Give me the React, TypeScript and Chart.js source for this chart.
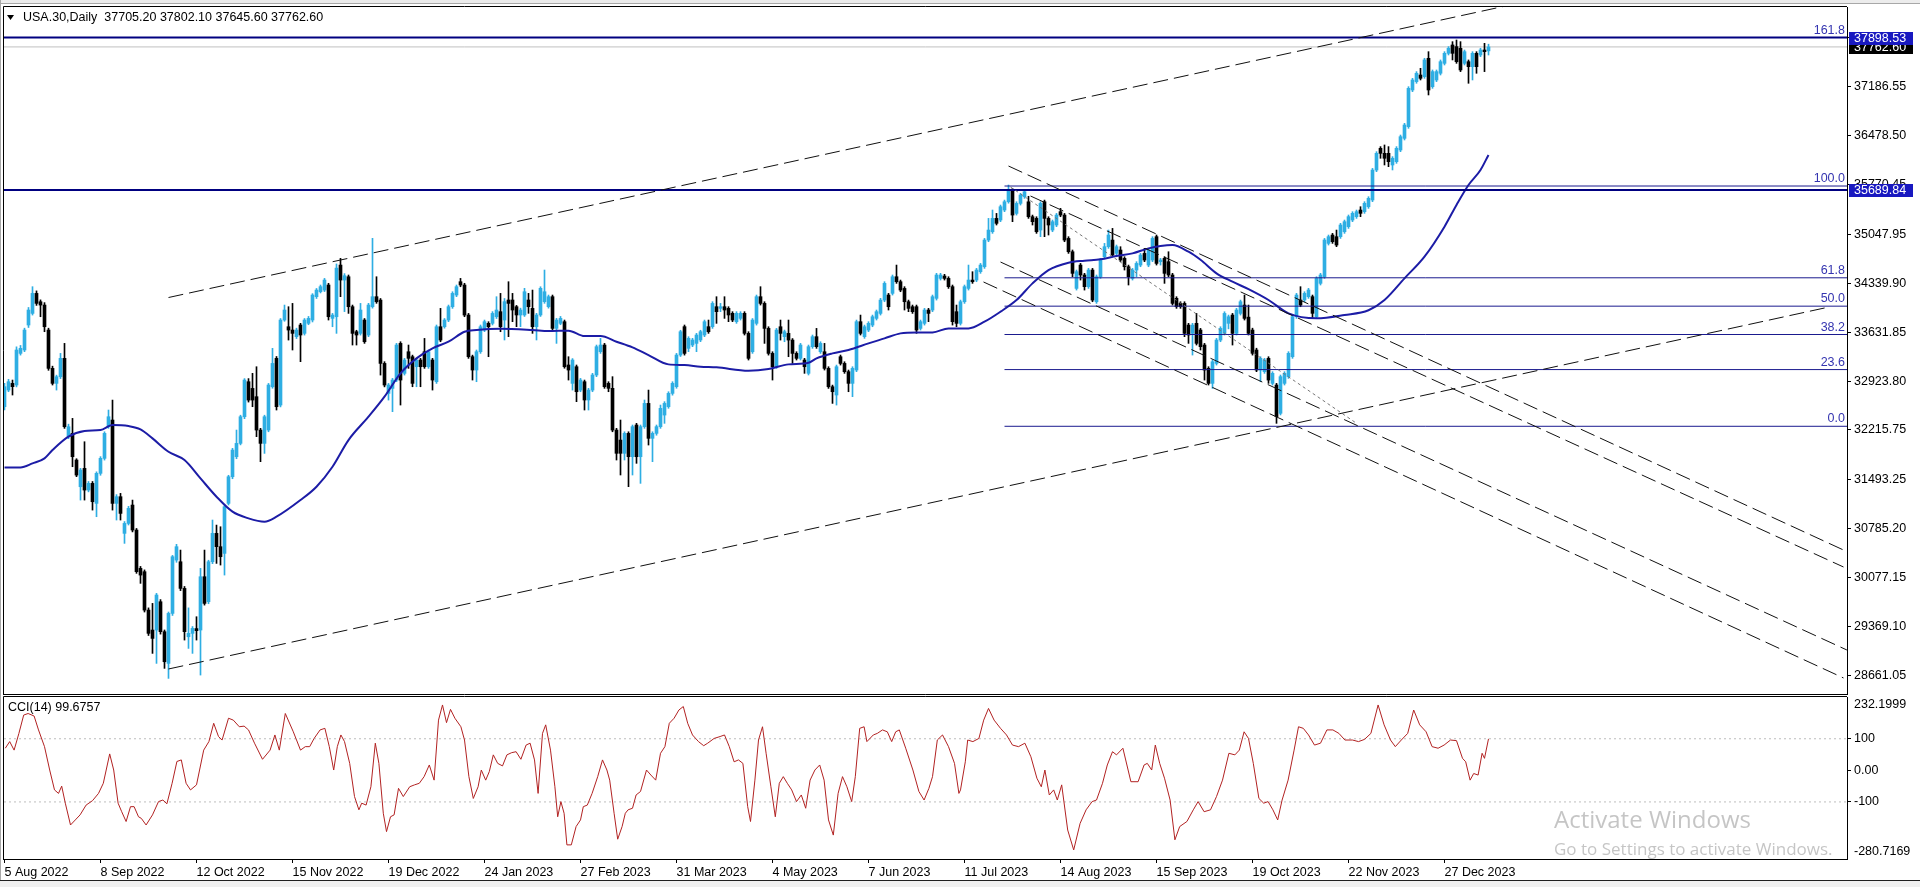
import React, { useEffect, useRef } from 'react';
import { Chart, registerables } from 'chart.js';

Chart.register(...registerables);

// ---------- data ----------
const titleText = 'USA.30,Daily  37705.20 37802.10 37645.60 37762.60';
const cciTitle = 'CCI(14) 99.6757';

const dateLabels = ['5 Aug 2022', '8 Sep 2022', '12 Oct 2022', '15 Nov 2022', '19 Dec 2022', '24 Jan 2023', '27 Feb 2023', '31 Mar 2023', '4 May 2023', '7 Jun 2023', '11 Jul 2023', '14 Aug 2023', '15 Sep 2023', '19 Oct 2023', '22 Nov 2023', '27 Dec 2023'];
const dateTickBars = [0, 24, 48, 72, 96, 120, 144, 168, 192, 216, 240, 264, 288, 312, 336, 360];

const priceTicks = [37894.6, 37186.55, 36478.5, 35770.45, 35047.95, 34339.9, 33631.85, 32923.8, 32215.75, 31493.25, 30785.2, 30077.15, 29369.1, 28661.05];
const priceMin = 28392.9;
const priceMax = 38340.8;

const opens = [
  32553, 32794, 32891, 32867, 33325, 33374, 33736, 33904, 34194, 34073,
  34025, 33663, 33108, 32891, 32987, 33253, 32119, 32167, 31781, 31394,
  31660, 31346, 31443, 31153, 31588, 31805, 32263, 32360, 31153, 31250,
  30719, 30863, 31129, 30767, 30212, 30164, 29608, 29319, 29319, 29729,
  29295, 28836, 29560, 30332, 30308, 29922, 29222, 29271, 29340, 29319,
  30091, 29729, 30308, 30719, 30526, 30429, 31153, 31539, 31829, 32022,
  32408, 32915, 32818, 32698, 32215, 32022, 32215, 32842, 33253, 32577,
  33808, 33711, 33663, 33567, 33736, 33615, 33760, 33808, 34146, 34218,
  34242, 34315, 33832, 33856, 34604, 34387, 34435, 34001, 33639, 33615,
  33808, 33591, 34001, 34146, 34097, 33180, 32746, 32818, 32939, 33470,
  33036, 33349, 33277, 33132, 33229, 33349, 33132, 33229, 32915, 33711,
  33711, 33808, 34001, 34170, 34363, 34315, 33880, 33277, 33084, 33349,
  33663, 33760, 33760, 33856, 33929, 33808, 34098, 34098, 34001, 33881,
  33881, 34098, 33977, 33712, 33881, 34074, 34001, 34146, 33687, 33760,
  33784, 33157, 32891, 33132, 32794, 32915, 32650, 32794, 33012, 33350,
  33446, 32891, 32819, 32215, 32070, 31878, 32167, 31829, 32288, 31829,
  32264, 32601, 32095, 32167, 32264, 32432, 32553, 32746, 32843, 33301,
  33712, 33398, 33446, 33470, 33519, 33591, 33712, 33712, 34001, 33977,
  34001, 33977, 33905, 33784, 33832, 33905, 33615, 33349, 33760, 34146,
  34049, 33687, 33325, 33132, 33711, 33567, 33615, 33518, 33325, 33253,
  33229, 33036, 33422, 33567, 33349, 33349, 33108, 32842, 32722, 33277,
  33180, 33060, 32891, 33084, 33784, 33567, 33663, 33735, 33832, 33904,
  34097, 34170, 34194, 34435, 34363, 34266, 34073, 34001, 34001, 33687,
  33760, 33953, 33953, 34122, 34411, 34445, 34411, 34291, 33929, 33760,
  34073, 34266, 34387, 34387, 34508, 34580, 34966, 35087, 35280, 35256,
  35401, 35521, 35690, 35352, 35497, 35594, 35520, 35304, 35280, 35111,
  35521, 35280, 35111, 35184, 35377, 35328, 34990, 34797, 34266, 34604,
  34460, 34291, 34532, 34073, 34435, 34725, 34870, 34966, 34773, 34822,
  34701, 34580, 34411, 34532, 34604, 34773, 34604, 34677, 35015, 34653,
  34701, 34653, 34460, 34122, 34049, 34049, 33735, 33615, 33760, 33663,
  33446, 33108, 32891, 33180, 33518, 33615, 33760, 33880, 33615, 33904,
  34025, 33850, 33663, 33374, 33084, 33060, 33253, 32891, 32867, 32457,
  32891, 32988, 33277, 33857, 34098, 34098, 34146, 34146, 33857, 34339,
  34435, 34918, 35039, 35015, 35015, 35087, 35160, 35256, 35305, 35401,
  35377, 35449, 35546, 35980, 36294, 36222, 36222, 36053, 36101, 36270,
  36439, 36608, 37139, 37260, 37356, 37332, 37598, 37187, 37284, 37381,
  37525, 37670, 37791, 37767, 37743, 37525, 37549, 37477, 37670, 37646,
  37718, 37705.2
];
const highs = [
  32891, 32950, 32939, 33420, 33440, 33690, 33990, 34291, 34230, 34100,
  34060, 33690, 33140, 33010, 33325, 33470, 32300, 32384, 31800, 31660,
  32046, 31470, 31470, 31610, 31830, 32190, 32505, 32649, 31280, 31298,
  30890, 31110, 31201, 30790, 30240, 30190, 29640, 29705, 29850, 29760,
  29320, 29580, 30400, 30560, 30477, 29950, 29640, 29370, 29512, 30212,
  30477, 30330, 30912, 30839, 30815, 31130, 31560, 31950, 32215, 32430,
  32960, 32960, 33036, 33132, 32240, 32430, 32890, 33398, 33280, 33830,
  34025, 34001, 34049, 33690, 33760, 33830, 33860, 34190, 34265, 34315,
  34411, 34340, 33904, 34620, 34701, 34480, 34460, 34025, 33660, 34049,
  33830, 34050, 34991, 34435, 34120, 33205, 32890, 32963, 33470, 33494,
  33253, 33446, 33300, 33253, 33253, 33542, 33374, 33253, 33736, 33977,
  33830, 34025, 34218, 34315, 34411, 34340, 33904, 33300, 33374, 33736,
  33808, 33784, 33930, 34146, 34194, 34120, 34363, 34194, 34020, 33980,
  34267, 34194, 34242, 33905, 34290, 34532, 34170, 34170, 33832, 33860,
  33808, 33277, 33250, 33157, 32963, 32939, 32819, 33036, 33446, 33543,
  33470, 32915, 32988, 32240, 32360, 32190, 32190, 32288, 32312, 32288,
  32650, 32794, 32190, 32288, 32577, 32626, 32770, 32915, 33325, 33660,
  33736, 33567, 33543, 33615, 33660, 33808, 33808, 34074, 34146, 34049,
  34146, 34001, 33929, 33929, 33929, 33929, 33639, 33830, 34170, 34291,
  34073, 33711, 33349, 33687, 33808, 33663, 33808, 33540, 33349, 33470,
  33253, 33446, 33591, 33687, 33494, 33470, 33132, 32866, 33156, 33301,
  33204, 33084, 33132, 33808, 33880, 33735, 33784, 33880, 33953, 34122,
  34363, 34194, 34460, 34604, 34387, 34291, 34097, 34025, 34025, 33808,
  33977, 33977, 34170, 34484, 34484, 34470, 34435, 34315, 34025, 34097,
  34315, 34604, 34508, 34556, 34628, 34990, 35280, 35401, 35352, 35473,
  35545, 35763, 35714, 35521, 35642, 35690, 35600, 35328, 35304, 35521,
  35545, 35304, 35256, 35352, 35425, 35352, 35015, 34822, 34532, 34628,
  34484, 34556, 34556, 34460, 34701, 34918, 35111, 35135, 34894, 34870,
  34725, 34604, 34556, 34653, 34773, 34846, 34846, 35015, 35039, 34701,
  34725, 34797, 34484, 34146, 34073, 34073, 33760, 33760, 33904, 33687,
  33470, 33132, 33228, 33542, 33711, 33928, 33880, 33904, 33977, 34097,
  34170, 34025, 33690, 33400, 33277, 33253, 33277, 33060, 32891, 33012,
  33060, 33350, 33881, 34194, 34291, 34218, 34267, 34170, 34435, 34484,
  34990, 35039, 35063, 35111, 35208, 35256, 35329, 35377, 35401, 35449,
  35522, 35594, 36004, 36246, 36319, 36343, 36319, 36174, 36319, 36487,
  36656, 37187, 37308, 37405, 37453, 37598, 37694, 37429, 37429, 37574,
  37694, 37767, 37839, 37863, 37839, 37718, 37574, 37694, 37694, 37743,
  37815, 37802.1
];
const lows = [
  32505, 32770, 32722, 32840, 33300, 33350, 33700, 33880, 34020, 33856,
  33639, 33080, 32867, 32794, 32960, 32239, 32090, 31684, 31540, 31201,
  31201, 31320, 31056, 30960, 31560, 31780, 32240, 31056, 30912, 30912,
  30574, 30840, 30740, 30140, 29995, 29580, 29240, 28981, 28836, 29260,
  28764, 28619, 29530, 30300, 29890, 29174, 29053, 28981, 29174, 28667,
  29680, 29700, 30280, 30284, 30260, 30115, 31130, 31510, 31800, 32000,
  32380, 32620, 32553, 32119, 31757, 31877, 32190, 32820, 32505, 32550,
  33790, 33518, 33374, 33540, 33205, 33590, 33740, 33780, 34120, 34200,
  34220, 33808, 33711, 33615, 34146, 33930, 33904, 33446, 33446, 33590,
  33470, 33567, 33980, 34050, 33011, 32840, 32649, 32481, 32915, 32577,
  33011, 33108, 32842, 32842, 32842, 33108, 33108, 32794, 32890, 33494,
  33690, 33784, 33977, 34146, 34290, 33856, 33253, 32939, 32915, 33325,
  33640, 33277, 33736, 33830, 33639, 33519, 33567, 33784, 33712, 33712,
  33860, 33905, 33615, 33519, 33860, 34050, 33980, 33660, 33470, 33740,
  33110, 32939, 32794, 32626, 32770, 32505, 32505, 32770, 32988, 33325,
  32819, 32770, 32190, 31781, 31564, 31781, 31395, 31564, 31733, 31443,
  32240, 31998, 31757, 32140, 32240, 32312, 32530, 32720, 32820, 33280,
  33300, 33350, 33422, 33350, 33495, 33567, 33615, 33687, 33760, 33929,
  33832, 33784, 33784, 33760, 33808, 33591, 33229, 33325, 33735, 34025,
  33470, 33300, 32939, 33108, 33518, 33494, 33277, 33180, 33229, 33229,
  33036, 33012, 33398, 33398, 33325, 33084, 32818, 32601, 32577, 33156,
  33036, 32770, 32698, 33060, 33591, 33543, 33640, 33711, 33808, 33880,
  34073, 33953, 34170, 34339, 34218, 33953, 33929, 33904, 33615, 33663,
  33735, 33784, 33929, 34097, 34387, 34387, 34266, 33735, 33711, 33735,
  34049, 34242, 34339, 34363, 34484, 34556, 34942, 35063, 35184, 35232,
  35377, 35500, 35232, 35328, 35473, 35570, 35280, 35184, 35063, 35015,
  35015, 35039, 35087, 35160, 35304, 34942, 34773, 34435, 34242, 34387,
  34242, 34266, 34073, 34049, 34411, 34701, 34846, 34725, 34725, 34653,
  34532, 34315, 34387, 34435, 34580, 34653, 34580, 34653, 34604, 34604,
  34339, 34435, 34025, 33977, 33977, 33567, 33470, 33301, 33446, 33374,
  32939, 32867, 32818, 33156, 33494, 33591, 33680, 33446, 33591, 33880,
  33808, 33591, 33300, 33060, 32915, 33036, 32891, 32867, 32312, 32433,
  32867, 32963, 33253, 33832, 34001, 34073, 34122, 33832, 33832, 34315,
  34411, 34894, 34918, 34870, 34990, 35063, 35135, 35232, 35280, 35305,
  35353, 35425, 35522, 35956, 36150, 36053, 36029, 35981, 36077, 36246,
  36415, 36584, 37115, 37236, 37284, 37308, 37067, 37163, 37260, 37356,
  37501, 37646, 37574, 37525, 37405, 37501, 37236, 37284, 37381, 37622,
  37405, 37645.6
];
const closes = [
  32843, 32915, 32843, 33374, 33398, 33663, 33953, 34194, 34049, 34025,
  33711, 33108, 32891, 32987, 33253, 32263, 32263, 31829, 31563, 31636,
  31346, 31443, 31177, 31588, 31805, 32167, 32408, 31153, 31250, 31008,
  30863, 31081, 30767, 30164, 30115, 29608, 29271, 29198, 29826, 29295,
  28860, 29560, 30381, 30526, 29922, 29295, 29271, 29343, 29310, 30091,
  29705, 30308, 30719, 30526, 30381, 31105, 31539, 31925, 32022, 32408,
  32939, 32649, 32649, 32215, 32022, 32408, 32867, 33180, 32553, 33808,
  33953, 33663, 33615, 33663, 33591, 33808, 33832, 34170, 34242, 34291,
  34387, 33856, 33880, 34560, 34387, 34450, 34001, 33615, 33591, 33953,
  33494, 34025, 34146, 34073, 33180, 32867, 32867, 32939, 33446, 32939,
  33229, 33253, 32891, 33229, 33132, 33132, 33349, 32939, 33711, 33518,
  33808, 34001, 34194, 34291, 34315, 33880, 33277, 33084, 33349, 33711,
  33784, 33711, 33904, 33953, 33712, 34074, 34049, 33953, 33881, 33953,
  34218, 34001, 33712, 33881, 34267, 34218, 34146, 33687, 33808, 33832,
  33132, 33084, 33229, 32770, 32939, 32650, 32794, 33012, 33422, 33446,
  32843, 32819, 32215, 31878, 31878, 32167, 31829, 32264, 31829, 32264,
  32601, 32095, 32167, 32264, 32529, 32601, 32746, 32891, 33301, 33639,
  33325, 33543, 33519, 33591, 33639, 33784, 33639, 34049, 33929, 34001,
  33953, 33881, 33808, 33905, 33905, 33615, 33253, 33808, 34146, 34049,
  33687, 33325, 33132, 33663, 33615, 33639, 33518, 33325, 33253, 33446,
  33132, 33422, 33567, 33422, 33470, 33108, 32842, 32770, 33132, 33180,
  33060, 32891, 33108, 33784, 33615, 33711, 33760, 33856, 33929, 34097,
  34339, 34001, 34435, 34363, 34242, 34073, 33977, 33929, 33663, 33784,
  33953, 33904, 34146, 34460, 34460, 34411, 34291, 33784, 33760, 34073,
  34291, 34387, 34363, 34532, 34604, 34966, 35111, 35280, 35208, 35449,
  35521, 35700, 35328, 35497, 35618, 35666, 35304, 35232, 35087, 35497,
  35280, 35184, 35232, 35328, 35328, 34966, 34797, 34484, 34508, 34460,
  34291, 34532, 34097, 34435, 34677, 34870, 35039, 34749, 34870, 34677,
  34580, 34435, 34532, 34628, 34749, 34677, 34822, 34990, 34628, 34677,
  34484, 34460, 34049, 34001, 34001, 33615, 33591, 33735, 33470, 33422,
  33084, 32891, 33204, 33518, 33687, 33904, 33856, 33615, 33953, 34073,
  33832, 33615, 33326, 33084, 33253, 33229, 32939, 33036, 32408, 32988,
  33036, 33326, 33857, 34170, 34025, 34194, 34243, 33905, 34411, 34460,
  34967, 35015, 34943, 34894, 35184, 35232, 35305, 35353, 35377, 35353,
  35498, 35570, 35980, 36222, 36222, 36150, 36101, 36150, 36294, 36463,
  36632, 37163, 37284, 37381, 37308, 37574, 37139, 37405, 37405, 37549,
  37670, 37743, 37670, 37549, 37429, 37694, 37477, 37670, 37477, 37718,
  37694, 37762.6
];

// moving average at sample bars
const maBars = [0, 4, 7, 10, 12, 16, 20, 24, 27, 31, 34, 37, 41, 45, 49, 53, 57, 61, 65, 68, 74, 78, 82, 86, 91, 95, 99, 103, 107, 111, 115, 118, 124, 132, 136, 141, 145, 149, 153, 157, 161, 166, 170, 174, 178, 186, 191, 196, 201, 203, 207, 211, 216, 220, 224, 228, 232, 236, 241, 245, 249, 253, 257, 261, 266, 270, 274, 278, 282, 286, 289, 292, 296, 299, 303, 307, 311, 316, 321, 328, 335, 341, 345, 350, 355, 360, 363, 366, 369, 371];
const maVals = [31674, 31674, 31732, 31805, 31925, 32119, 32200, 32215, 32288, 32273, 32225, 32094, 31901, 31781, 31515, 31250, 31033, 30936, 30888, 30960, 31201, 31394, 31684, 32070, 32408, 32698, 33036, 33253, 33398, 33494, 33639, 33663, 33680, 33663, 33649, 33654, 33576, 33576, 33494, 33412, 33301, 33166, 33157, 33132, 33123, 33074, 33098, 33166, 33190, 33253, 33325, 33374, 33470, 33542, 33615, 33629, 33629, 33687, 33687, 33784, 33929, 34097, 34339, 34532, 34638, 34667, 34687, 34735, 34773, 34846, 34880, 34894, 34797, 34680, 34484, 34363, 34255, 34098, 33905, 33833, 33881, 33950, 34098, 34412, 34726, 35160, 35474, 35763, 35981, 36198];

// CCI(14) trace
const cciBars = [
  0.2, 1.3, 2.4, 3.6, 4.8, 5.9, 7.4, 8.5, 10.0, 11.3, 12.5, 13.5, 14.3, 15.2, 16.5, 17.7, 18.9, 20.4, 22.0, 23.5,
  24.7, 26.3, 27.3, 28.4, 29.3, 30.4, 31.5, 32.4, 33.5, 34.2, 35.4, 37.0, 38.5, 39.6, 40.6, 41.9, 43.1, 44.2, 45.4, 46.5,
  48.0, 49.8, 51.1, 52.3, 53.5, 54.4, 56.0, 57.2, 58.7, 59.9, 61.0, 62.5, 64.5, 66.4, 67.6, 68.7, 70.2, 72.2, 74.0, 75.2,
  76.3, 77.4, 78.9, 80.1, 81.2, 82.3, 83.2, 84.1, 85.0, 86.3, 87.5, 88.6, 89.3, 90.4, 91.6, 92.7, 93.6, 94.7, 95.5, 96.5,
  97.4, 98.5, 99.7, 101.3, 102.5, 103.7, 104.9, 106.2, 107.4, 108.5, 109.5, 110.5, 111.5, 112.6, 114.1, 115.0, 116.1, 117.2, 118.4, 119.2,
  120.3, 121.2, 122.2, 123.3, 124.5, 125.6, 126.8, 127.9, 129.1, 130.4, 131.4, 132.5, 133.4, 134.5, 135.3, 136.5, 137.6, 138.3, 139.1, 139.9,
  140.6, 141.7, 142.9, 144.0, 144.7, 145.7, 146.9, 148.3, 149.5, 150.6, 151.3, 152.4, 153.3, 154.4, 155.2, 155.9, 157.0, 157.9, 159.0, 160.5,
  161.6, 162.8, 164.0, 165.1, 166.2, 167.4, 168.6, 169.7, 170.8, 172.0, 173.5, 174.8, 175.8, 177.4, 178.9, 180.0, 181.2, 182.4, 183.5, 184.6,
  185.8, 186.5, 187.6, 188.5, 189.5, 190.4, 191.6, 192.7, 193.7, 194.7, 195.7, 196.8, 198.0, 199.2, 200.3, 201.4, 202.6, 203.8, 204.9, 206.0,
  207.2, 208.4, 209.5, 210.6, 211.8, 212.7, 213.8, 214.9, 215.6, 217.2, 218.2, 219.5, 220.7, 221.8, 222.8, 223.7, 225.3, 227.1, 228.6, 229.9,
  231.1, 232.0, 233.2, 234.5, 236.0, 237.5, 238.6,
  239.0, 240.2, 240.8, 242.1, 243.6, 244.8, 246.0, 247.4, 249.0, 250.5, 252.0, 253.5, 255.1, 256.6, 258.1, 259.2, 260.1, 261.2, 262.3, 263.2,
  264.3, 265.8, 267.3, 268.9, 270.4, 271.9, 273.0, 274.5, 275.7, 277.0, 278.0, 279.6, 281.6, 283.4, 284.9, 285.7, 286.8, 287.7, 288.8, 290.0,
  291.4, 292.6, 293.8, 295.6, 297.2, 298.4, 299.9, 301.5, 303.0, 304.5, 306.1, 307.6, 308.7, 309.9, 311.0, 312.2, 313.6, 314.8, 315.9, 317.1,
  318.3, 319.4, 320.9, 322.4, 323.5, 324.7, 326.0, 327.5, 329.0, 330.6, 332.1, 333.6, 335.1, 337.0, 338.5, 340.0, 341.6, 343.4, 344.9, 346.5,
  347.7, 349.2, 350.8, 352.3, 353.8, 355.4, 356.9, 358.4, 359.9, 361.5, 363.0, 364.5, 365.3, 366.4, 367.3, 368.4, 369.4, 370.0, 371.0
];
const cciVals = [
  70, 91, 64, 117, 175, 180, 172, 128, 75, 1, -62, -73, -50, -104, -173, -157, -141, -110, -96, -73,
  -41, 52, 1, -104, -131, -162, -115, -115, -147, -152, -173, -141, -99, -94, -106, -41, 28, 33, -41, -62,
  -46, 64, 91, 149, 107, 96, 165, 159, 138, 140, 128, 86, 35, 64, 112, 64, 180, 122, 64, 75,
  75, 101, 128, 133, 75, 1, 75, 112, 91, 22, -83, -125, -104, -110, -52, 86, 22, -136, -194, -147,
  -141, -57, -83, -52, -46, -41, -20, 17, -31, 159, 207, 151, 193, 165, 138, 96, -20, -89, -52, 1,
  -31, -4, 49, 22, 14, 49, 56, 59, 35, 80, 86, 33, -73, 117, 144, 64, -52, -147, -99, -136,
  -236, -236, -178, -157, -115, -110, -73, -20, 33, 1, -31, -136, -218, -178, -136, -125, -120, -78, -67, 1,
  -15, -31, 54, 75, 149, 165, 191, 202, 149, 112, 91, 78, 86, 101, 107, 112, 75, 27, 33, 22,
  -115, -162, -31, 96, 138, 54, -52, -147, -41, -20, -41, -62, -99, -78, -120, -31, 1, 17, -31, -157,
  -205, -73, -20, -52, -99, -20, 133, 138, 91, 112, 117, 128, 122, 91, 122, 128, 70, 1, -67, -94,
  -57, -20, 96, 112, 75, 22, -73,
  -62, 27, 96, 91, 101, 159, 196, 159, 133, 112, 80, 75, 86, 43, -25, -52, 1, -78, -62, -94,
  -46, -189, -252, -168, -125, -99, -94, -41, 17, 59, 49, 70, -36, -36, 17, 22, 1, 80, 22, -25,
  -94, -220, -178, -162, -125, -99, -131, -125, -83, -31, 54, 49, 64, 122, 101, 22, -89, -104, -99, -125,
  -157, -94, -31, 64, 138, 133, 112, 80, 86, 128, 128, 117, 96, 96, 91, 98, 117, 207, 144, 96,
  75, 96, 117, 191, 144, 122, 75, 70, 80, 96, 94, 38, 27, -31, -10, -15, 54, 38, 99.6757
];
const cciMax = 232.1999;
const cciMin = -280.7169;
const cciTicks = [100, 0, -100];
const cciLevels = [100, -100];

// horizontal lines and Fibonacci retracement
const thickLevels = [37898.53, 35689.84];
const currentPrice = 37762.6;
const fibLow = 32269.3;
const fibHigh = 35748.6;
const fibStartBar = 250;
const fibPercents = [0, 23.6, 38.2, 50, 61.8, 100, 161.8];
const fibTexts = ['0.0', '23.6', '38.2', '50.0', '61.8', '100.0', '161.8'];

// trend lines: [bar1, price1, bar2, price2]
const dashedLines = [
  [41, 34134, 400, 38668],
  [41, 28755, 456, 33995],
  [251, 36038, 459.75, 30478],
  [256.5, 35604, 459.75, 30232],
  [249, 34648, 460.6, 29030],
  [244.75, 34359, 459.75, 28625]
];
const dottedLines = [[251.5, 35734, 338, 32313]];

// ---------- style ----------
const X_MIN = -0.125;
const X_MAX = 460.625;
const BULL = '#2eaee3';
const BEAR = '#000000';
const NAVY = '#000080';
const FIB = '#1a1a8e';
const FIB_TEXT = '#3535b0';
const MA_COLOR = '#1c1ca6';
const BOX_BLUE = '#1818c0';
const FONT = '"Liberation Sans", Arial, sans-serif';
const FS = 12.5;

Chart.defaults.font.family = FONT;
Chart.defaults.font.size = FS;
Chart.defaults.color = '#000';

const barIdx = opens.map((_, i) => i);
const isBull = barIdx.map((i) => closes[i] >= opens[i]);

const priceDecor = {
  id: 'priceDecor',
  beforeDraw(chart: any) {
    const { ctx } = chart;
    ctx.save();
    ctx.fillStyle = '#ffffff';
    ctx.fillRect(0, 0, chart.width, chart.height);
    ctx.fillStyle = '#ececec';
    ctx.fillRect(0, 0, chart.width, 3);
    ctx.fillStyle = '#a8a8a8';
    ctx.fillRect(0, 3, chart.width, 1);
    ctx.fillRect(0, 0, 1, chart.height);
    ctx.restore();
  },
  afterDraw(chart: any) {
    const { ctx, chartArea: a } = chart;
    const y = chart.scales.y;
    ctx.save();
    ctx.strokeStyle = '#000';
    ctx.lineWidth = 1;
    ctx.beginPath();
    ctx.moveTo(a.left - 0.5, a.top - 0.5);
    ctx.lineTo(a.right, a.top - 0.5);
    ctx.moveTo(a.left - 0.5, a.top - 0.5);
    ctx.lineTo(a.left - 0.5, a.bottom + 1);
    ctx.moveTo(a.left - 0.5, a.bottom + 0.5);
    ctx.lineTo(a.right, a.bottom + 0.5);
    ctx.stroke();

    // title
    ctx.fillStyle = '#000';
    ctx.beginPath();
    ctx.moveTo(7, 15);
    ctx.lineTo(14, 15);
    ctx.lineTo(10.5, 20);
    ctx.closePath();
    ctx.fill();
    ctx.font = FS + 'px ' + FONT;
    ctx.textBaseline = 'middle';
    ctx.textAlign = 'left';
    ctx.fillText(titleText, 23, 18);

    // fib labels
    ctx.fillStyle = FIB_TEXT;
    ctx.textAlign = 'right';
    ctx.textBaseline = 'bottom';
    fibPercents.forEach((p, k) => {
      const v = fibLow + (fibHigh - fibLow) * p / 100;
      const py = y.getPixelForValue(v);
      ctx.fillText(fibTexts[k], a.right - 2, py - 1);
    });

    // price boxes on the axis
    const boxes = [
      { v: currentPrice, bg: '#000000' },
      { v: thickLevels[0], bg: BOX_BLUE },
      { v: thickLevels[1], bg: BOX_BLUE }
    ];
    ctx.textAlign = 'left';
    ctx.textBaseline = 'middle';
    boxes.forEach((b) => {
      const py = Math.round(y.getPixelForValue(b.v));
      ctx.fillStyle = b.bg;
      ctx.fillRect(a.right + 2, py - 6, 64, 13);
      ctx.fillStyle = '#ffffff';
      ctx.fillText(b.v.toFixed(2), a.right + 7, py + 0.5);
    });
    ctx.restore();
  }
};

const cciDecor = {
  id: 'cciDecor',
  beforeDraw(chart: any) {
    const { ctx } = chart;
    ctx.save();
    ctx.fillStyle = '#ffffff';
    ctx.fillRect(0, 0, chart.width, chart.height);
    ctx.fillStyle = '#a8a8a8';
    ctx.fillRect(0, 0, 1, chart.height);
    ctx.fillStyle = '#f0f0f0';
    ctx.fillRect(0, 184, chart.width, chart.height - 184);
    ctx.fillStyle = '#202020';
    ctx.fillRect(0, 184, chart.width, 1);
    ctx.restore();
  },
  afterDraw(chart: any) {
    const { ctx, chartArea: a } = chart;
    ctx.save();
    ctx.strokeStyle = '#000';
    ctx.lineWidth = 1;
    ctx.beginPath();
    ctx.moveTo(a.left - 0.5, a.top - 0.5);
    ctx.lineTo(a.right, a.top - 0.5);
    ctx.moveTo(a.left - 0.5, a.top - 0.5);
    ctx.lineTo(a.left - 0.5, a.bottom + 1);
    ctx.stroke();
    ctx.font = FS + 'px ' + FONT;
    ctx.fillStyle = '#000';
    ctx.textAlign = 'left';
    ctx.textBaseline = 'middle';
    ctx.fillText(cciTitle, 8, a.top + 11);
    ctx.fillText(cciMax.toFixed(4), a.right + 7, a.top + 8);
    ctx.fillText(cciMin.toFixed(4), a.right + 7, a.bottom - 7);

    // OS watermark seen in the screenshot
    ctx.fillStyle = 'rgba(150,150,150,0.55)';
    ctx.textBaseline = 'alphabetic';
    ctx.font = '24px "Open Sans", "Noto Sans", sans-serif';
    ctx.fillText('Activate Windows', 1554, 132);
    ctx.font = '17px "Open Sans", "Noto Sans", sans-serif';
    ctx.fillText('Go to Settings to activate Windows.', 1554, 159);
    ctx.restore();
  }
};

function lineDs(points: any[], color: string, width: number, dash: number[], order: number) {
  return {
    type: 'line',
    data: points,
    borderColor: color,
    borderWidth: width,
    borderDash: dash,
    pointRadius: 0,
    tension: 0,
    fill: false,
    order
  };
}

export default function App() {
  const priceRef = useRef<HTMLCanvasElement>(null);
  const cciRef = useRef<HTMLCanvasElement>(null);

  useEffect(() => {
    document.body.style.margin = '0';
    document.body.style.background = '#ffffff';

    const datasets: any[] = [];
    datasets.push(lineDs([{ x: X_MIN, y: currentPrice }, { x: X_MAX, y: currentPrice }], '#c0c0c0', 1, [], 9));
    thickLevels.forEach((v) => {
      datasets.push(lineDs([{ x: X_MIN, y: v }, { x: X_MAX, y: v }], NAVY, 2, [], 3));
    });
    fibPercents.forEach((p) => {
      const v = fibLow + (fibHigh - fibLow) * p / 100;
      datasets.push(lineDs([{ x: fibStartBar, y: v }, { x: X_MAX, y: v }], FIB, 1, [], 3));
    });
    datasets.push({
      type: 'bar',
      data: barIdx.map((i) => ({ x: i, y: [lows[i], highs[i]] })),
      backgroundColor: barIdx.map((i) => (isBull[i] ? BULL : BEAR)),
      borderWidth: 0,
      grouped: false,
      barThickness: 1,
      maxBarThickness: 1,
      minBarLength: 1,
      order: 6
    });
    datasets.push({
      type: 'bar',
      data: barIdx.map((i) => ({ x: i, y: [opens[i], closes[i]] })),
      backgroundColor: barIdx.map((i) => (isBull[i] ? BULL : BEAR)),
      borderWidth: 0,
      grouped: false,
      barThickness: 3,
      maxBarThickness: 3,
      minBarLength: 1,
      order: 5
    });
    datasets.push({
      ...lineDs(maBars.map((b, k) => ({ x: b, y: maVals[k] })), MA_COLOR, 2, [], 4),
      cubicInterpolationMode: 'monotone'
    });
    dashedLines.forEach((l) => {
      datasets.push(lineDs([{ x: l[0], y: l[1] }, { x: l[2], y: l[3] }], '#111111', 1, [15, 6], 2));
    });
    dottedLines.forEach((l) => {
      datasets.push(lineDs([{ x: l[0], y: l[1] }, { x: l[2], y: l[3] }], '#777777', 1, [3, 3], 2));
    });

    const c1 = new Chart(priceRef.current as HTMLCanvasElement, {
      type: 'bar',
      data: { datasets },
      options: {
        animation: false,
        responsive: false,
        devicePixelRatio: 1,
        events: [],
        layout: { padding: { left: 4, top: 7, right: 0, bottom: 2 } },
        plugins: { legend: { display: false }, tooltip: { enabled: false } },
        scales: {
          x: { type: 'linear', min: X_MIN, max: X_MAX, offset: false, display: false },
          y: {
            type: 'linear',
            position: 'right',
            min: priceMin,
            max: priceMax,
            beginAtZero: false,
            afterFit: (s: any) => { s.width = 73; s.paddingTop = 0; s.paddingBottom = 0; },
            afterBuildTicks: (s: any) => { s.ticks = priceTicks.map((v) => ({ value: v })); },
            grid: { display: true, drawOnChartArea: false, drawTicks: true, tickLength: 4, color: '#000' },
            border: { display: true, color: '#000' },
            ticks: {
              autoSkip: false,
              padding: 3,
              color: '#000',
              font: { size: FS, family: FONT },
              callback: (v: any) => Number(v).toFixed(2)
            }
          }
        }
      } as any,
      plugins: [priceDecor]
    } as any);

    const cciDatasets: any[] = [];
    cciLevels.forEach((v) => {
      cciDatasets.push(lineDs([{ x: X_MIN, y: v }, { x: X_MAX, y: v }], '#bdbdbd', 1, [2, 3], 3));
    });
    cciDatasets.push(lineDs(cciBars.map((b, k) => ({ x: b, y: cciVals[k] })), '#b22222', 1, [], 1));

    const c2 = new Chart(cciRef.current as HTMLCanvasElement, {
      type: 'line',
      data: { datasets: cciDatasets },
      options: {
        animation: false,
        responsive: false,
        devicePixelRatio: 1,
        events: [],
        layout: { padding: { left: 4, top: 1, right: 0, bottom: 0 } },
        plugins: { legend: { display: false }, tooltip: { enabled: false } },
        scales: {
          x: {
            type: 'linear',
            min: X_MIN,
            max: X_MAX,
            offset: false,
            afterFit: (s: any) => { s.height = 28; s.paddingLeft = 0; s.paddingRight = 0; },
            afterBuildTicks: (s: any) => { s.ticks = dateTickBars.map((v) => ({ value: v })); },
            grid: { display: true, drawOnChartArea: false, drawTicks: true, tickLength: 4, color: '#000' },
            border: { display: true, color: '#000' },
            ticks: {
              autoSkip: false,
              maxRotation: 0,
              minRotation: 0,
              align: 'start',
              padding: 2,
              color: '#000',
              font: { size: FS, family: FONT },
              callback: (_v: any, idx: number) => dateLabels[idx]
            }
          },
          y: {
            type: 'linear',
            position: 'right',
            min: cciMin,
            max: cciMax,
            afterFit: (s: any) => { s.width = 73; s.paddingTop = 0; s.paddingBottom = 0; },
            afterBuildTicks: (s: any) => { s.ticks = cciTicks.map((v) => ({ value: v })); },
            grid: { display: true, drawOnChartArea: false, drawTicks: true, tickLength: 4, color: '#000' },
            border: { display: true, color: '#000' },
            ticks: {
              autoSkip: false,
              padding: 3,
              color: '#000',
              font: { size: FS, family: FONT },
              callback: (v: any) => (Number(v) === 0 ? '0.00' : String(v))
            }
          }
        }
      } as any,
      plugins: [cciDecor]
    } as any);

    return () => {
      c1.destroy();
      c2.destroy();
    };
  }, []);

  return (
    <div style={{ position: 'absolute', left: 0, top: 0, width: 1920, height: 887, background: '#fff', overflow: 'hidden' }}>
      <canvas ref={priceRef} width={1920} height={696} style={{ position: 'absolute', left: 0, top: 0, width: 1920, height: 696 }} />
      <canvas ref={cciRef} width={1920} height={191} style={{ position: 'absolute', left: 0, top: 696, width: 1920, height: 191 }} />
    </div>
  );
}
